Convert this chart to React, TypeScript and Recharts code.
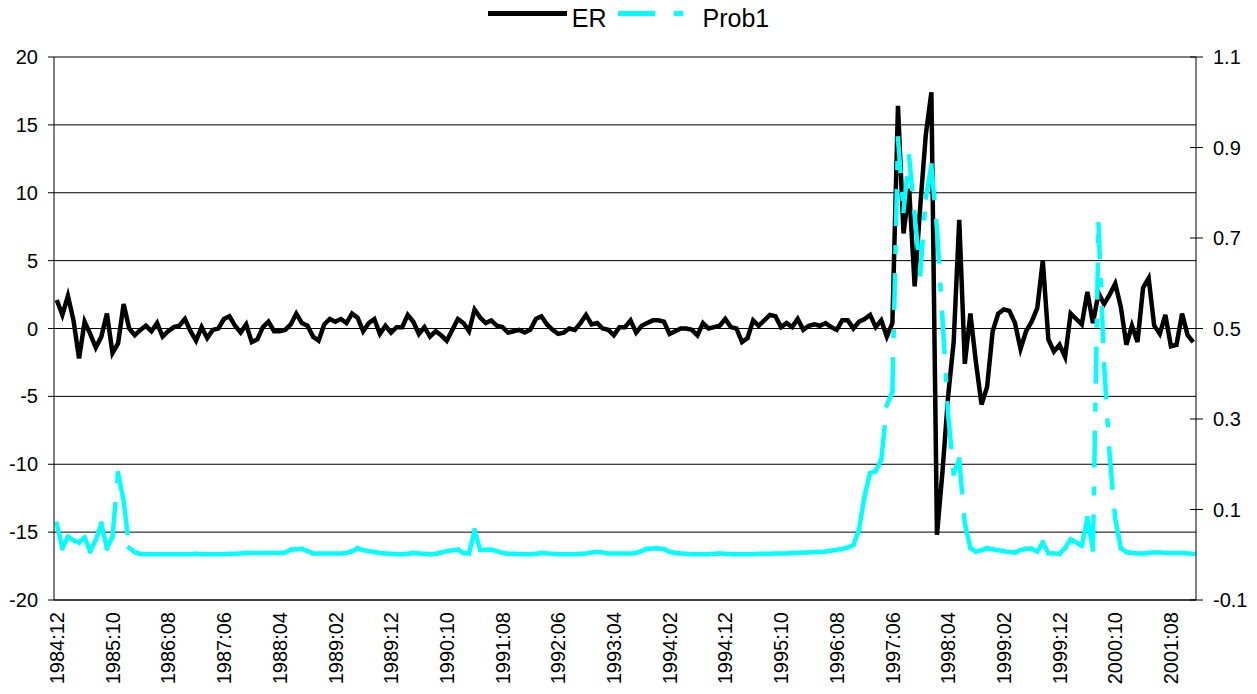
import React from 'react';
import { LineChart, Line, XAxis, YAxis, CartesianGrid, Legend } from 'recharts';

// ---- data ----
const START_YEAR = 1984;
const START_MONTH = 12;
const N_MONTHS = 205;
const MONTHS: string[] = Array.from({ length: N_MONTHS }, (_, i) => {
  const m = START_MONTH - 1 + i;
  const y = START_YEAR + Math.floor(m / 12);
  const mm = (m % 12) + 1;
  return `${y}:${String(mm).padStart(2, '0')}`;
});

const X_TICK_LABELS = [
  '1984:12', '1985:10', '1986:08', '1987:06', '1988:04', '1989:02', '1989:12',
  '1990:10', '1991:08', '1992:06', '1993:04', '1994:02', '1994:12', '1995:10',
  '1996:08', '1997:06', '1998:04', '1999:02', '1999:12', '2000:10', '2001:08',
];

const ER = [
  2.1, 1.0, 2.4, 0.6, -2.2, 0.5, -0.4, -1.4, -0.6, 1.1,
  -1.8, -1.1, 1.8, 0.0, -0.5, -0.1, 0.2, -0.2, 0.4, -0.6,
  -0.2, 0.1, 0.2, 0.7, -0.2, -0.9, 0.1, -0.7, -0.1, 0.0,
  0.7, 0.9, 0.2, -0.3, 0.3, -1.0, -0.8, 0.1, 0.5, -0.2,
  -0.2, -0.1, 0.3, 1.1, 0.4, 0.2, -0.6, -0.9, 0.3, 0.7,
  0.5, 0.7, 0.4, 1.1, 0.8, -0.2, 0.4, 0.7, -0.4, 0.2,
  -0.3, 0.1, 0.1, 1.0, 0.5, -0.4, 0.1, -0.6, -0.2, -0.5,
  -0.9, -0.1, 0.7, 0.4, -0.2, 1.4, 0.8, 0.4, 0.6, 0.2,
  0.1, -0.3, -0.2, -0.1, -0.3, -0.1, 0.7, 0.9, 0.3, -0.1,
  -0.4, -0.3, 0.0, -0.1, 0.4, 1.0, 0.3, 0.4, 0.0, -0.1,
  -0.5, 0.1, 0.1, 0.6, -0.3, 0.2, 0.4, 0.6, 0.6, 0.5,
  -0.4, -0.2, 0.0, 0.0, -0.1, -0.5, 0.4, 0.0, 0.1, 0.2,
  0.7, 0.1, 0.0, -1.0, -0.7, 0.6, 0.2, 0.6, 1.0, 0.9,
  0.1, 0.4, 0.1, 0.7, -0.1, 0.2, 0.3, 0.2, 0.4, 0.1,
  -0.1, 0.6, 0.6, 0.0, 0.5, 0.7, 1.0, 0.1, 0.6, -0.6,
  0.4, 16.4, 7.0, 10.3, 3.1, 9.0, 14.3, 17.4, -15.2, -10.5,
  -5.0, -1.0, 8.0, -2.6, 1.1, -2.5, -5.6, -4.3, -0.2, 1.1,
  1.4, 1.3, 0.4, -1.5, -0.2, 0.5, 1.5, 5.0, -0.8, -1.7,
  -1.2, -2.1, 1.1, 0.7, 0.3, 2.7, 0.4, 2.6, 1.8, 2.5,
  3.3, 1.6, -1.2, 0.2, -1.0, 3.0, 3.7, 0.2, -0.4, 1.0,
  -1.3, -1.2, 1.1, -0.5, -1.0,
];

const PROB1 = [
  0.068, 0.015, 0.04, 0.032, 0.027, 0.038, 0.008, 0.033, 0.068, 0.015,
  0.04, 0.18, 0.12, 0.015, 0.006, 0.002, 0.001, 0.001, 0.001, 0.001,
  0.001, 0.001, 0.001, 0.001, 0.001, 0.002, 0.001, 0.001, 0.001, 0.001,
  0.001, 0.002, 0.002, 0.003, 0.004, 0.004, 0.004, 0.004, 0.004, 0.004,
  0.004, 0.005, 0.011, 0.012, 0.013, 0.008, 0.003, 0.003, 0.003, 0.003,
  0.003, 0.003, 0.004, 0.008, 0.014, 0.01, 0.008, 0.006, 0.004, 0.003,
  0.002, 0.001, 0.001, 0.002, 0.004, 0.003, 0.002, 0.001, 0.002, 0.005,
  0.008, 0.01, 0.011, 0.004, 0.003, 0.053, 0.011, 0.011, 0.011, 0.008,
  0.004, 0.002, 0.002, 0.001, 0.001, 0.001, 0.002, 0.004, 0.003, 0.002,
  0.001, 0.001, 0.001, 0.001, 0.002, 0.003, 0.005, 0.006, 0.005, 0.003,
  0.003, 0.003, 0.003, 0.003, 0.004, 0.008, 0.013, 0.014, 0.014, 0.012,
  0.007, 0.004, 0.003, 0.002, 0.001, 0.001, 0.001, 0.001, 0.002, 0.003,
  0.002, 0.001, 0.001, 0.001, 0.001, 0.001, 0.002, 0.002, 0.002, 0.003,
  0.003, 0.003, 0.004, 0.004, 0.005, 0.005, 0.006, 0.006, 0.007, 0.009,
  0.011, 0.013, 0.016, 0.022, 0.055, 0.13, 0.18, 0.185, 0.21, 0.33,
  0.36, 0.92, 0.76, 0.88, 0.75, 0.62, 0.79, 0.86, 0.72, 0.52,
  0.31, 0.18, 0.21, 0.07, 0.015, 0.007, 0.01, 0.014, 0.012, 0.01,
  0.008, 0.006, 0.005, 0.01, 0.013, 0.013, 0.007, 0.027, 0.004, 0.003,
  0.002, 0.015, 0.034, 0.027, 0.02, 0.08, 0.012, 0.73, 0.42, 0.22,
  0.08, 0.015, 0.006, 0.004, 0.003, 0.003, 0.004, 0.005, 0.005, 0.004,
  0.004, 0.004, 0.004, 0.003, 0.002,
];

const LEFT_TICKS = [-20, -15, -10, -5, 0, 5, 10, 15, 20];
const RIGHT_TICKS = [-0.1, 0.1, 0.3, 0.5, 0.7, 0.9, 1.1];

const SERIES = [
  { key: 'ER', name: 'ER', color: '#000000' },
  { key: 'Prob1', name: 'Prob1', color: '#00FFFF' },
];

const data = MONTHS.map((m, i) => ({ idx: i, date: m, ER: ER[i], Prob1: PROB1[i] }));
const X_TICKS = X_TICK_LABELS.map((l) => MONTHS.indexOf(l));

// ---- styles ----
const FONT = "'Liberation Sans', Arial, Helvetica, sans-serif";
const DASH = '32.5 23.5 4.5 23.5';
const LINE_W = 4.5;

// curve that restarts each segment as its own subpath so the dash pattern restarts per segment (like Excel)
function segmentCurve(context: any) {
  let px = 0;
  let py = 0;
  let started = false;
  return {
    areaStart() {},
    areaEnd() {},
    lineStart() {
      started = false;
    },
    lineEnd() {},
    point(x: number, y: number) {
      x = +x;
      y = +y;
      if (started) {
        context.moveTo(px, py);
        context.lineTo(x, y);
      }
      px = x;
      py = y;
      started = true;
    },
  };
}

const XTick = (props: any) => {
  const { x, y, payload } = props;
  return (
    <g transform={`translate(${x},${y})`}>
      <text
        transform="rotate(-90)"
        textAnchor="end"
        dy="0.36em"
        fill="#000"
        fontSize={20}
        fontFamily={FONT}
      >
        {MONTHS[payload.value]}
      </text>
    </g>
  );
};

const RightTick = (props: any) => {
  const { x, y, payload } = props;
  return (
    <g>
      <line x1={x - 23} x2={x - 10} y1={y} y2={y} stroke="#000" strokeWidth={1} />
      <text x={x} y={y} dy="0.36em" textAnchor="start" fill="#000" fontSize={20} fontFamily={FONT}>
        {String(payload.value)}
      </text>
    </g>
  );
};

const renderLegend = (props: any) => {
  const payload = props.payload || [];
  return (
    <div
      style={{
        display: 'flex',
        justifyContent: 'center',
        alignItems: 'flex-start',
        height: 36,
        fontFamily: FONT,
        fontSize: 25,
        lineHeight: '36px',
        color: '#000',
      }}
    >
      {payload.map((entry: any, i: number) => {
        const dashed = entry.dataKey === 'Prob1';
        return (
          <div key={i} style={{ display: 'flex', alignItems: 'flex-start', marginLeft: i === 0 ? 0 : 11 }}>
            <svg width={79} height={36} style={{ display: 'block' }}>
              <line
                x1={dashed ? 2.25 : 0}
                x2={79}
                y1={13.5}
                y2={13.5}
                stroke={entry.color}
                strokeWidth={5}
                strokeDasharray={dashed ? DASH : undefined}
                strokeLinecap={dashed ? 'square' : 'butt'}
              />
            </svg>
            <span style={{ marginLeft: dashed ? 6 : 5 }}>{entry.value}</span>
          </div>
        );
      })}
    </div>
  );
};

export default function App() {
  return (
    <div
      style={{
        position: 'absolute',
        left: 0,
        top: 0,
        width: 1257,
        height: 694,
        background: '#fff',
        fontFamily: FONT,
      }}
    >
      <LineChart width={1257} height={694} data={data} margin={{ top: 57, right: 0, bottom: 0, left: 0 }}>
        <CartesianGrid yAxisId="left" vertical={false} horizontal={true} stroke="#000" strokeWidth={1} />
        <XAxis
          dataKey="idx"
          type="number"
          domain={[-0.5, N_MONTHS - 0.5]}
          ticks={X_TICKS}
          interval={0}
          height={94}
          tickLine={false}
          tickSize={0}
          tickMargin={12}
          axisLine={{ stroke: '#000', strokeWidth: 1 }}
          tick={<XTick />}
          allowDataOverflow
        />
        <YAxis
          yAxisId="left"
          orientation="left"
          domain={[-20, 20]}
          ticks={LEFT_TICKS}
          interval={0}
          width={54}
          tickSize={6}
          tickMargin={10}
          axisLine={{ stroke: '#000', strokeWidth: 1 }}
          tickLine={{ stroke: '#000', strokeWidth: 1 }}
          tick={{ fill: '#000', fontSize: 20, fontFamily: FONT }}
          allowDataOverflow
        />
        <YAxis
          yAxisId="right"
          orientation="right"
          domain={[-0.1, 1.1]}
          ticks={RIGHT_TICKS}
          interval={0}
          width={61}
          tickSize={7}
          tickMargin={10}
          tickLine={false}
          axisLine={{ stroke: '#000', strokeWidth: 1 }}
          tick={<RightTick />}
          allowDataOverflow
        />
        <Legend
          verticalAlign="middle"
          align="center"
          layout="horizontal"
          wrapperStyle={{ top: 0, left: 0, width: 1257, height: 36 }}
          content={renderLegend}
        />
        <Line
          yAxisId="left"
          dataKey="ER"
          name={SERIES[0].name}
          type="linear"
          stroke={SERIES[0].color}
          strokeWidth={LINE_W}
          dot={false}
          activeDot={false}
          isAnimationActive={false}
        />
        <Line
          yAxisId="right"
          dataKey="Prob1"
          name={SERIES[1].name}
          type={segmentCurve as any}
          stroke={SERIES[1].color}
          strokeWidth={LINE_W}
          strokeDasharray={DASH}
          strokeLinecap="square"
          dot={false}
          activeDot={false}
          isAnimationActive={false}
        />
      </LineChart>
    </div>
  );
}
